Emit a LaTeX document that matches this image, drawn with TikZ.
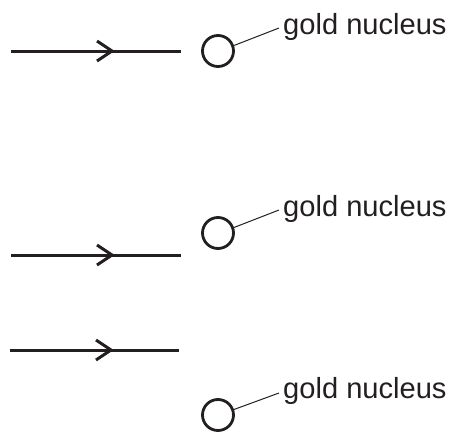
\documentclass[tikz,border=0pt]{standalone}
\usepackage{fontspec}
\setmainfont{Liberation Sans}
\usetikzlibrary{decorations.markings}
\definecolor{ink}{HTML}{231F20}
\begin{document}
\begin{tikzpicture}[x=1pt,y=-1pt,
  beam/.style={draw=ink,line width=3pt,
    postaction={decorate,decoration={markings,
      mark=at position 101pt with {\draw[ink,line width=3pt] (-15pt,10pt)--(0pt,0pt)--(-15pt,-10pt);}}}},
  nucleus/.style={circle,draw=ink,line width=2.8pt,minimum size=31pt,inner sep=0pt},
  leader/.style={draw=ink,line width=1pt},
  lbl/.style={text=ink,font=\fontsize{29.1}{30}\selectfont,anchor=base west,inner sep=0pt}]
\useasboundingbox (0,0) rectangle (451,432);
% row 1
\coordinate (a1s) at (11,51); \coordinate (a1e) at (181,51);
\path[beam] (a1s) -- (a1e);
\node[nucleus] (n1) at (218,51) {};
\node[lbl] (t1) at (283,34) {gold nucleus};
\coordinate (l1) at (279,28);
\path[leader] (n1.19) -- (l1);
% row 2
\coordinate (a2s) at (11,255); \coordinate (a2e) at (181,255);
\path[beam] (a2s) -- (a2e);
\node[nucleus] (n2) at (218,233) {};
\node[lbl] (t2) at (283,216) {gold nucleus};
\coordinate (l2) at (279,210);
\path[leader] (n2.19) -- (l2);
% row 3
\coordinate (a3s) at (10,350); \coordinate (a3e) at (179,350);
\path[beam] (a3s) -- (a3e);
\node[nucleus] (n3) at (218,415) {};
\node[lbl] (t3) at (283,398) {gold nucleus};
\coordinate (l3) at (279,393);
\path[leader] (n3.19) -- (l3);
\end{tikzpicture}
\end{document}
